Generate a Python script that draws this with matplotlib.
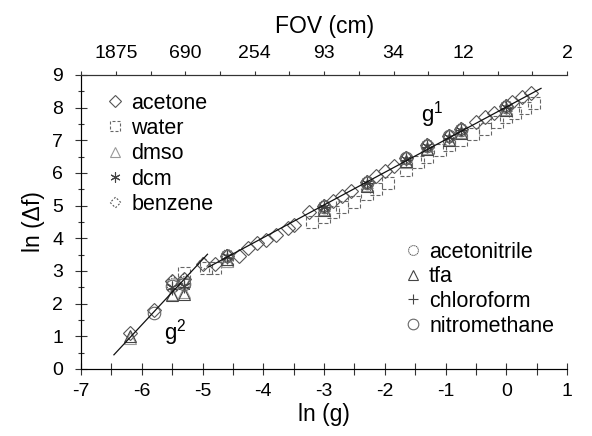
import numpy as np
import matplotlib.pyplot as plt
from matplotlib.path import Path

plt.rcParams['font.family'] = ['Liberation Sans', 'DejaVu Sans']
plt.rcParams['mathtext.fontset'] = 'custom'
plt.rcParams['mathtext.rm'] = 'Liberation Sans'

# data: ln(g) vs ln(delta f)
acetone_x = [-6.2, -5.8, -5.5, -5.3, -5.0, -4.8, -4.6, -4.4, -4.25, -4.1, -3.95, -3.8, -3.6, -3.5,
             -3.25, -3.0, -2.85, -2.7, -2.55, -2.3, -2.15, -2.0, -1.85, -1.65, -1.3, -0.95, -0.75,
             -0.5, -0.35, -0.2, 0.0, 0.1, 0.25, 0.4]
acetone_y = [1.1, 1.8, 2.7, 2.75, 3.2, 3.2, 3.45, 3.45, 3.7, 3.85, 3.95, 4.1, 4.3, 4.4,
             4.8, 5.0, 5.15, 5.3, 5.45, 5.72, 5.9, 6.05, 6.2, 6.45, 6.85, 7.12, 7.35,
             7.55, 7.7, 7.85, 8.05, 8.18, 8.32, 8.45]

water_x = [-5.3, -4.95, -4.8, -4.6, -3.2, -3.0, -2.85, -2.7, -2.5, -2.3, -2.15, -1.95, -1.65,
           -1.45, -1.3, -1.1, -0.95, -0.75, -0.55, -0.35, -0.15, 0.0, 0.15, 0.3, 0.45]
water_y = [2.95, 3.1, 3.1, 3.3, 4.5, 4.65, 4.8, 4.95, 5.1, 5.35, 5.5, 5.7, 6.1,
           6.35, 6.5, 6.7, 6.85, 7.0, 7.2, 7.35, 7.55, 7.7, 7.85, 8.0, 8.15]

dmso_x = [-6.2, -5.5, -5.3, -4.6, -3.0, -2.3, -1.65, -1.3, -0.95, -0.75, 0.0]
dmso_y = [0.95, 2.3, 2.35, 3.3, 4.9, 5.62, 6.35, 6.75, 7.05, 7.25, 7.95]

dcm_x = [-5.5, -5.3, -4.6, -3.0, -2.3, -1.65, -1.3, -0.95, -0.75, 0.0]
dcm_y = [2.5, 2.55, 3.45, 4.97, 5.7, 6.42, 6.82, 7.1, 7.32, 8.02]

benzene_x = [-5.5, -5.3, -5.0, -4.6, -3.0, -2.3, -1.65, -1.3, -0.95, -0.75, 0.0]
benzene_y = [2.7, 2.75, 3.25, 3.5, 5.02, 5.75, 6.5, 6.88, 7.15, 7.38, 8.08]

acetonitrile_x = [-5.5, -5.3, -4.6, -3.0, -2.3, -1.65, -1.3, -0.95, -0.75, 0.0]
acetonitrile_y = [2.6, 2.65, 3.5, 5.0, 5.72, 6.45, 6.85, 7.12, 7.35, 8.05]

tfa_x = [-6.2, -5.5, -5.3, -4.6, -3.0, -2.3, -1.65, -1.3, -0.95, -0.75, 0.0]
tfa_y = [1.0, 2.25, 2.3, 3.35, 4.88, 5.6, 6.36, 6.72, 7.02, 7.22, 7.92]

chloroform_x = [-5.5, -5.3, -4.6, -3.0, -2.3, -1.65, -1.3, -0.95, -0.75, 0.0]
chloroform_y = [2.45, 2.5, 3.4, 4.95, 5.68, 6.4, 6.8, 7.08, 7.3, 8.0]

nitromethane_x = [-5.8, -5.5, -5.3, -4.6, -3.0, -2.3, -1.65, -1.3, -0.95, -0.75, 0.0]
nitromethane_y = [1.7, 2.55, 2.6, 3.45, 4.95, 5.7, 6.45, 6.82, 7.12, 7.32, 8.02]

# fitted lines (slope, intercept, x range)
g2_fit = (2.0, 13.35, -6.46, -4.92)
g1_fit = (1.0, 8.02, -4.9, 0.57)

fov_labels = ['', '1875', '', '690', '', '254', '', '93', '', '34', '', '12', '', '', '2']


# broken-outline marker shapes
def broken_path(pts, n_dash, frac):
    verts, codes = [], []
    for a, b in zip(pts[:-1], pts[1:]):
        a, b = np.array(a, float), np.array(b, float)
        for k in range(n_dash):
            t0 = k / n_dash
            t1 = t0 + frac / n_dash
            verts += [a + (b - a) * t0, a + (b - a) * t1]
            codes += [Path.MOVETO, Path.LINETO]
    return Path(verts, codes)


dash_square = broken_path([(-1, -1), (1, -1), (1, 1), (-1, 1), (-1, -1)], 2, 0.6)
dot_diamond = broken_path([(0, -1), (1, 0), (0, 1), (-1, 0), (0, -1)], 2, 0.5)
th = np.linspace(0, 2 * np.pi, 17)
dash_circle = broken_path([(np.cos(t), np.sin(t)) for t in th], 1, 0.6)

styles = {
    'acetone': dict(marker='D', ms=7, color='#555555'),
    'water': dict(marker=dash_square, ms=8.5, color='#666666'),
    'dmso': dict(marker='^', ms=8.5, color='#999999'),
    'dcm': dict(marker=(6, 2, 0), ms=8.5, color='#444444'),
    'benzene': dict(marker=dot_diamond, ms=9, color='#555555'),
    'acetonitrile': dict(marker=dash_circle, ms=8.5, color='#555555'),
    'tfa': dict(marker='^', ms=8.5, color='#444444'),
    'chloroform': dict(marker='+', ms=8.5, color='#444444'),
    'nitromethane': dict(marker='o', ms=9, color='#666666'),
}
series = {
    'acetone': (acetone_x, acetone_y),
    'water': (water_x, water_y),
    'dmso': (dmso_x, dmso_y),
    'dcm': (dcm_x, dcm_y),
    'benzene': (benzene_x, benzene_y),
    'acetonitrile': (acetonitrile_x, acetonitrile_y),
    'tfa': (tfa_x, tfa_y),
    'chloroform': (chloroform_x, chloroform_y),
    'nitromethane': (nitromethane_x, nitromethane_y),
}

fig = plt.figure(figsize=(5.92, 4.36), dpi=100)
ax = fig.add_axes([0.137, 0.154, 0.821, 0.674])

handles = {}
for name, (xs, ys) in series.items():
    st = styles[name]
    h, = ax.plot(xs, ys, linestyle='none', marker=st['marker'], ms=st['ms'],
                 mfc='none', mec=st['color'], mew=0.8, label=name)
    handles[name] = h

for slope, icpt, x0, x1 in (g2_fit, g1_fit):
    xx = np.array([x0, x1])
    ax.plot(xx, slope * xx + icpt, color='#111111', lw=0.9)

ax.text(-5.45, 1.1, r'g$^{\mathregular{2}}$', fontsize=16, ha='center', va='center')
ax.text(-1.22, 7.8, r'g$^{\mathregular{1}}$', fontsize=16, ha='center', va='center')

ax.set_xlim(-7, 1)
ax.set_ylim(0, 9)
ax.set_xticks(np.arange(-7, 1.1, 1))
ax.set_xticks(np.arange(-6.5, 1, 1), minor=True)
ax.set_yticks(np.arange(0, 9.1, 1))
ax.set_yticks(np.arange(0.5, 9, 1), minor=True)
ax.set_xticklabels(['-7', '-6', '-5', '-4', '-3', '-2', '-1', '0', '1'])
ax.tick_params(axis='x', which='both', direction='inout', length=8, width=0.8,
               labelsize=14, pad=6, color='#333333')
ax.tick_params(axis='y', which='major', direction='inout', length=8, width=0.8,
               labelsize=14, pad=9, color='#333333')
ax.tick_params(axis='y', which='minor', direction='inout', length=5, width=0.8, color='#333333')
ax.spines['right'].set_visible(False)
for s in ('left', 'bottom', 'top'):
    ax.spines[s].set_linewidth(0.8)
    ax.spines[s].set_color('#333333')
ax.set_xlabel('ln (g)', fontsize=16.5, labelpad=2)
ax.set_ylabel('ln (\u0394f)', fontsize=16.5, labelpad=5)

top = ax.twiny()
top.set_xlim(-7, 1)
top.set_xticks(np.linspace(-7, 1, 15))
top.set_xticklabels(fov_labels)
top.tick_params(axis='x', direction='out', length=3, width=0.8, labelsize=14, pad=6,
                color='#333333')
top.spines['right'].set_visible(False)
top.spines['top'].set_linewidth(0.8)
top.spines['top'].set_color('#333333')
top.set_xlabel('FOV (cm)', fontsize=16.5, labelpad=9)

left_names = ['acetone', 'water', 'dmso', 'dcm', 'benzene']
right_names = ['acetonitrile', 'tfa', 'chloroform', 'nitromethane']
leg1 = top.legend([handles[n] for n in left_names], left_names, loc='upper left',
                  bbox_to_anchor=(0.052, 0.94), frameon=False, fontsize=15.5,
                  handlelength=0.8, handletextpad=0.35, labelspacing=0.2,
                  borderaxespad=0, borderpad=0, markerscale=0.85)
top.add_artist(leg1)
top.legend([handles[n] for n in right_names], right_names, loc='lower left',
           bbox_to_anchor=(0.665, 0.11), frameon=False, fontsize=15.5,
           handlelength=0.8, handletextpad=0.35, labelspacing=0.17,
           borderaxespad=0, borderpad=0, markerscale=0.85)

fig.savefig('out.png', dpi=100)
